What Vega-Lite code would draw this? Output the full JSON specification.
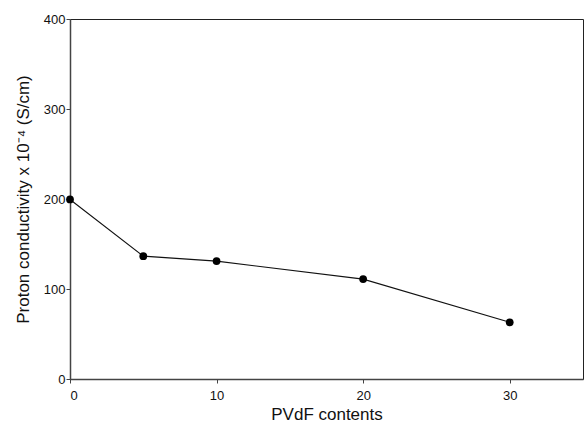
{
  "$schema": "https://vega.github.io/schema/vega-lite/v6.json",
  "width": 513,
  "height": 360,
  "autosize": {"type": "none"},
  "padding": {"left": 70, "top": 19, "right": 1, "bottom": 48},
  "background": "white",
  "config": {
    "view": {"stroke": "#222", "strokeWidth": 1},
    "font": "Liberation Sans",
    "axis": {
      "grid": false,
      "domainColor": "#444",
      "domainWidth": 1.5,
      "tickColor": "#444",
      "tickSize": 4,
      "labelFont": "Liberation Sans",
      "labelFontSize": 13,
      "labelColor": "#111",
      "titleFont": "Liberation Sans",
      "titleFontSize": 17,
      "titleFontWeight": "normal",
      "titleColor": "#111"
    }
  },
  "data": {
    "values": [
      {"pvdf": 0, "cond": 199.5},
      {"pvdf": 5, "cond": 136.5},
      {"pvdf": 10, "cond": 131},
      {"pvdf": 20, "cond": 111},
      {"pvdf": 30, "cond": 63}
    ]
  },
  "encoding": {
    "x": {
      "field": "pvdf",
      "type": "quantitative",
      "scale": {"domain": [0, 35], "nice": false, "zero": false},
      "axis": {"values": [0, 10, 20, 30], "title": "PVdF contents", "labelPadding": 6, "titlePadding": 4}
    },
    "y": {
      "field": "cond",
      "type": "quantitative",
      "scale": {"domain": [0, 400], "nice": false},
      "axis": {"values": [0, 100, 200, 300, 400], "title": "Proton conductivity x 10⁻⁴  (S/cm)", "labelPadding": 1, "titlePadding": 11}
    }
  },
  "layer": [
    {"mark": {"type": "line", "color": "#111", "strokeWidth": 1.1}},
    {"mark": {"type": "point", "filled": true, "color": "#000", "size": 60, "opacity": 1}}
  ]
}
